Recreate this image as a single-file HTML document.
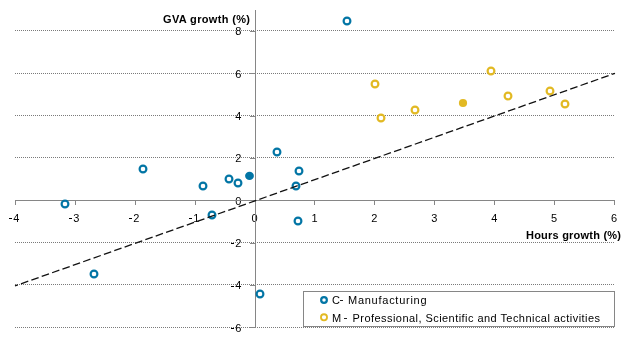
<!DOCTYPE html>
<html><head><meta charset="utf-8"><style>
html,body{margin:0;padding:0;background:#fff;width:624px;height:337px;overflow:hidden}
svg{display:block;will-change:transform}
text{font-family:"Liberation Sans",sans-serif;fill:#000}
.lab{font-size:11px}
.ttl{font-size:11px;font-weight:bold}
.leg{font-size:11px}
</style></head><body>
<svg width="624" height="337" viewBox="0 0 624 337">
<rect width="624" height="337" fill="#fff"/>
<line x1="15" y1="30.5" x2="614" y2="30.5" stroke="#7a7a7a" stroke-width="1" stroke-dasharray="1 1"/>
<line x1="15" y1="73.5" x2="614" y2="73.5" stroke="#7a7a7a" stroke-width="1" stroke-dasharray="1 1"/>
<line x1="15" y1="115.5" x2="614" y2="115.5" stroke="#7a7a7a" stroke-width="1" stroke-dasharray="1 1"/>
<line x1="15" y1="157.5" x2="614" y2="157.5" stroke="#7a7a7a" stroke-width="1" stroke-dasharray="1 1"/>
<line x1="15" y1="242.5" x2="614" y2="242.5" stroke="#7a7a7a" stroke-width="1" stroke-dasharray="1 1"/>
<line x1="15" y1="284.5" x2="614" y2="284.5" stroke="#7a7a7a" stroke-width="1" stroke-dasharray="1 1"/>
<line x1="15" y1="327.5" x2="614" y2="327.5" stroke="#7a7a7a" stroke-width="1" stroke-dasharray="1 1"/>
<text x="241.4" y="35" text-anchor="end" class="lab">8</text>
<text x="241.4" y="78" text-anchor="end" class="lab">6</text>
<text x="241.4" y="120" text-anchor="end" class="lab">4</text>
<text x="241.4" y="162" text-anchor="end" class="lab">2</text>
<text x="241.4" y="205" text-anchor="end" class="lab">0</text>
<text x="241.4" y="247" text-anchor="end" class="lab">2</text>
<rect x="231" y="243" width="3" height="1" fill="#000"/>
<text x="241.4" y="289" text-anchor="end" class="lab">4</text>
<rect x="231" y="286" width="3" height="1" fill="#000"/>
<text x="241.4" y="332" text-anchor="end" class="lab">6</text>
<rect x="231" y="328" width="3" height="1" fill="#000"/>
<text x="16.3" y="222" text-anchor="middle" class="lab">4</text>
<rect x="9" y="218" width="3" height="1" fill="#000"/>
<text x="76.3" y="222" text-anchor="middle" class="lab">3</text>
<rect x="69" y="218" width="3" height="1" fill="#000"/>
<text x="136.3" y="222" text-anchor="middle" class="lab">2</text>
<rect x="129" y="218" width="3" height="1" fill="#000"/>
<text x="196.3" y="222" text-anchor="middle" class="lab">1</text>
<rect x="189" y="218" width="3" height="1" fill="#000"/>
<text x="254.6" y="222" text-anchor="middle" class="lab">0</text>
<text x="314.5" y="222" text-anchor="middle" class="lab">1</text>
<text x="374.4" y="222" text-anchor="middle" class="lab">2</text>
<text x="434.3" y="222" text-anchor="middle" class="lab">3</text>
<text x="494.2" y="222" text-anchor="middle" class="lab">4</text>
<text x="554.1" y="222" text-anchor="middle" class="lab">5</text>
<text x="614.0" y="222" text-anchor="middle" class="lab">6</text>
<line x1="15" y1="200.5" x2="614" y2="200.5" stroke="#868686" stroke-width="1"/>
<line x1="255.5" y1="10" x2="255.5" y2="328" stroke="#868686" stroke-width="1"/>
<line x1="15.5" y1="200" x2="15.5" y2="205" stroke="#868686" stroke-width="1"/>
<line x1="75.5" y1="200" x2="75.5" y2="205" stroke="#868686" stroke-width="1"/>
<line x1="135.5" y1="200" x2="135.5" y2="205" stroke="#868686" stroke-width="1"/>
<line x1="195.5" y1="200" x2="195.5" y2="205" stroke="#868686" stroke-width="1"/>
<line x1="255.5" y1="200" x2="255.5" y2="205" stroke="#868686" stroke-width="1"/>
<line x1="314.5" y1="200" x2="314.5" y2="205" stroke="#868686" stroke-width="1"/>
<line x1="374.5" y1="200" x2="374.5" y2="205" stroke="#868686" stroke-width="1"/>
<line x1="434.5" y1="200" x2="434.5" y2="205" stroke="#868686" stroke-width="1"/>
<line x1="494.5" y1="200" x2="494.5" y2="205" stroke="#868686" stroke-width="1"/>
<line x1="554.5" y1="200" x2="554.5" y2="205" stroke="#868686" stroke-width="1"/>
<line x1="614.5" y1="200" x2="614.5" y2="205" stroke="#868686" stroke-width="1"/>
<line x1="250" y1="31.5" x2="256" y2="31.5" stroke="#868686" stroke-width="1"/>
<line x1="250" y1="73.5" x2="256" y2="73.5" stroke="#868686" stroke-width="1"/>
<line x1="250" y1="116.5" x2="256" y2="116.5" stroke="#868686" stroke-width="1"/>
<line x1="250" y1="158.5" x2="256" y2="158.5" stroke="#868686" stroke-width="1"/>
<line x1="250" y1="243.5" x2="256" y2="243.5" stroke="#868686" stroke-width="1"/>
<line x1="250" y1="285.5" x2="256" y2="285.5" stroke="#868686" stroke-width="1"/>
<line x1="250" y1="327.5" x2="256" y2="327.5" stroke="#868686" stroke-width="1"/>
<circle cx="65" cy="204" r="3.4" fill="none" stroke="#0275a5" stroke-width="2.15"/>
<circle cx="94" cy="274" r="3.4" fill="none" stroke="#0275a5" stroke-width="2.15"/>
<circle cx="143" cy="169" r="3.4" fill="none" stroke="#0275a5" stroke-width="2.15"/>
<circle cx="203" cy="186" r="3.4" fill="none" stroke="#0275a5" stroke-width="2.15"/>
<circle cx="212" cy="215" r="3.4" fill="none" stroke="#0275a5" stroke-width="2.15"/>
<circle cx="229" cy="179" r="3.4" fill="none" stroke="#0275a5" stroke-width="2.15"/>
<circle cx="238" cy="183" r="3.4" fill="none" stroke="#0275a5" stroke-width="2.15"/>
<circle cx="277" cy="152" r="3.4" fill="none" stroke="#0275a5" stroke-width="2.15"/>
<circle cx="296" cy="186" r="3.4" fill="none" stroke="#0275a5" stroke-width="2.15"/>
<circle cx="299" cy="171" r="3.4" fill="none" stroke="#0275a5" stroke-width="2.15"/>
<circle cx="298" cy="221" r="3.4" fill="none" stroke="#0275a5" stroke-width="2.15"/>
<circle cx="260" cy="294" r="3.4" fill="none" stroke="#0275a5" stroke-width="2.15"/>
<circle cx="347" cy="21" r="3.4" fill="none" stroke="#0275a5" stroke-width="2.15"/>
<ellipse cx="249.5" cy="175.9" rx="4.4" ry="4.05" fill="#0275a5"/>
<circle cx="375" cy="84" r="3.4" fill="none" stroke="#e2b923" stroke-width="2.15"/>
<circle cx="381" cy="118" r="3.4" fill="none" stroke="#e2b923" stroke-width="2.15"/>
<circle cx="415" cy="110" r="3.4" fill="none" stroke="#e2b923" stroke-width="2.15"/>
<circle cx="491" cy="71" r="3.4" fill="none" stroke="#e2b923" stroke-width="2.15"/>
<circle cx="508" cy="96" r="3.4" fill="none" stroke="#e2b923" stroke-width="2.15"/>
<circle cx="550" cy="91" r="3.4" fill="none" stroke="#e2b923" stroke-width="2.15"/>
<circle cx="565" cy="104" r="3.4" fill="none" stroke="#e2b923" stroke-width="2.15"/>
<circle cx="463" cy="103" r="4.1" fill="#e2b923"/>
<line x1="15" y1="285.9" x2="615" y2="73.3" stroke="#111" stroke-width="1.3" stroke-dasharray="7.7 3.294" stroke-dashoffset="4.63"/>
<text x="163" y="23" class="ttl" textLength="87" lengthAdjust="spacing">GVA growth (%)</text>
<text x="526" y="239" class="ttl" textLength="95" lengthAdjust="spacing">Hours growth (%)</text>
<rect x="303.5" y="291.5" width="311" height="35" fill="#fff" stroke="#868686" stroke-width="1"/>
<circle cx="324" cy="300" r="2.85" fill="none" stroke="#0275a5" stroke-width="2.2"/>
<circle cx="324" cy="317.3" r="3.05" fill="none" stroke="#e2b923" stroke-width="1.8"/>
<text x="332" y="304" class="leg">C</text><rect x="340" y="300" width="3" height="1" fill="#222"/><text x="348" y="304" class="leg" textLength="78.6" lengthAdjust="spacing">Manufacturing</text>
<text x="332" y="322" class="leg">M</text><rect x="344" y="318" width="3" height="1" fill="#222"/><text x="352.5" y="322" class="leg" textLength="247.5" lengthAdjust="spacing">Professional, Scientific and Technical activities</text>
</svg>
</body></html>
